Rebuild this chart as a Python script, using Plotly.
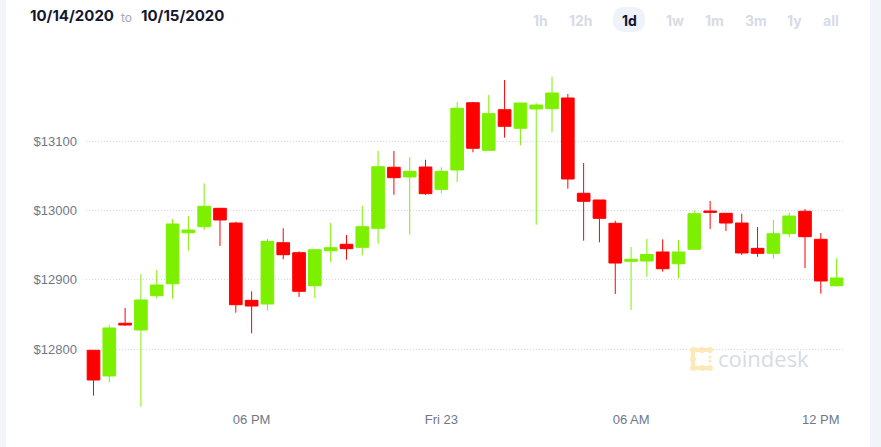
import plotly.graph_objects as go
import pandas as pd

# ---- data (30-minute candles) ----
opens = [12798.1, 12761.1, 12837.1, 12827.4, 12876.9, 12894.2, 12967.7, 12976.4,
         13002.9, 12981.7, 12870.2, 12864.9, 12953.3, 12938.9, 12891.3, 12941.8,
         12951.0, 12946.7, 12974.1, 13062.1, 13048.1, 13062.5, 13030.3, 13058.2,
         13155.2, 13086.6, 13145.1, 13118.3, 13146.2, 13146.6, 13162.0, 13024.6,
         13014.9, 12981.3, 12926.5, 12926.9, 12939.9, 12923.0, 12943.8, 12999.0,
         12995.7, 12981.7, 12945.2, 12938.0, 12966.3, 12998.6, 12958.2, 12891.3]
highs = [12798.1, 12834.6, 12859.1, 12907.7, 12913.9, 12987.5, 12991.8, 13039.0,
         13003.4, 12983.6, 12883.2, 12958.7, 12974.1, 12940.9, 12944.2, 12981.7,
         12964.4, 13006.7, 13086.0, 13085.6, 13076.9, 13073.0, 13062.1, 13156.2,
         13156.2, 13166.3, 13188.0, 13154.8, 13154.8, 13192.7, 13167.8, 13068.3,
         13014.9, 12985.0, 12947.1, 12958.7, 12958.2, 12957.2, 13000.0, 13013.5,
         12995.7, 12995.1, 12976.0, 12986.1, 12996.6, 13001.9, 12967.3, 12930.8]
lows = [12732.6, 12752.0, 12833.6, 12716.8, 12873.1, 12872.5, 12941.8, 12971.6,
        12948.6, 12852.4, 12822.6, 12855.2, 12929.4, 12875.0, 12873.1, 12925.5,
        12928.8, 12935.1, 12951.9, 13022.5, 12964.9, 13022.5, 13024.6, 13040.9,
        13083.7, 13086.6, 13104.8, 13093.8, 12979.3, 13112.5, 13031.2, 12956.2,
        12953.9, 12879.3, 12856.3, 12904.3, 12911.5, 12902.0, 12942.8, 12973.1,
        12970.2, 12935.6, 12933.1, 12930.2, 12961.5, 12916.8, 12879.8, 12889.9]
closes = [12755.3, 12830.3, 12834.6, 12870.7, 12892.3, 12980.3, 12971.6, 13005.8,
          12986.1, 12863.9, 12862.0, 12955.3, 12936.0, 12883.2, 12943.2, 12946.1,
          12944.7, 12976.4, 13062.9, 13047.1, 13056.3, 13024.0, 13056.3, 13147.2,
          13089.5, 13139.4, 13121.2, 13154.8, 13151.9, 13169.2, 13045.2, 13013.0,
          12988.5, 12924.0, 12929.4, 12936.3, 12915.8, 12939.9, 12995.1, 12997.2,
          12981.7, 12938.5, 12938.0, 12966.3, 12991.8, 12962.0, 12898.1, 12902.4]
start_time = "2020-10-22 13:00"
tick_vals = ["2020-10-22 18:00", "2020-10-23 00:00", "2020-10-23 06:00", "2020-10-23 12:00"]
tick_text = ["06 PM", "Fri 23", "06 AM", "12 PM"]
y_ticks = [12800, 12900, 13000, 13100]
y_tick_text = ["$12800", "$12900", "$13000", "$13100"]
range_buttons = ["1h", "12h", "1d", "1w", "1m", "3m", "1y", "all"]
active_button = "1d"
date_from = "10/14/2020"
date_to = "10/15/2020"

times = pd.date_range(start_time, periods=len(opens), freq="30min")
step = pd.Timedelta(minutes=30)

# ---- layout geometry (pixels) ----
W, H = 881, 447
L, R, T, B = 86, 845, 50, 410
PW, PH = R - L, B - T


def px(p):
    return (p - L) / PW


def py(p):
    return (B - p) / PH


GREEN = "#7df000"
RED = "#ff0000"

fig = go.Figure(go.Candlestick(
    x=times, open=opens, high=highs, low=lows, close=closes,
    increasing=dict(line=dict(color=GREEN, width=1), fillcolor=GREEN),
    decreasing=dict(line=dict(color=RED, width=1), fillcolor=RED),
    whiskerwidth=0, hoverinfo="skip", showlegend=False,
))

font_fam = "Liberation Sans, Arial, sans-serif"
TICK_COL = "#6e788a"
annotations = []
# header dates
annotations.append(dict(text=f"<b>{date_from}</b>", x=px(28), y=py(16), xanchor="left",
                        yanchor="middle", font=dict(family="Inter", size=15, color="#141830")))
annotations.append(dict(text="to", x=px(126), y=py(17), xanchor="center", yanchor="middle",
                        font=dict(family="Inter", size=12, color="#a3a9b8")))
annotations.append(dict(text=f"<b>{date_to}</b>", x=px(139), y=py(16), xanchor="left",
                        yanchor="middle", font=dict(family="Inter", size=15, color="#141830")))
btn_centers = [540, 580.5, 629, 674.5, 714.5, 756, 794, 831]
for lab, cx in zip(range_buttons, btn_centers):
    col = "#121632" if lab == active_button else "#d7dbe5"
    annotations.append(dict(text=f"<b>{lab}</b>", x=px(cx), y=py(20), xanchor="center",
                            yanchor="middle", font=dict(family="Inter", size=14, color=col)))
# watermark
annotations.append(dict(text="coindesk", x=px(716), y=py(358), xanchor="left", yanchor="middle",
                        font=dict(family="Open Sans", size=22, color="#d8dbe3")))
for a in annotations:
    a.update(xref="paper", yref="paper", showarrow=False)

shapes = []
# side strips
shapes.append(dict(type="rect", x0=px(-2), x1=px(6), y0=py(-5), y1=py(H + 5),
                   fillcolor="#f1f4f9", line_width=0, layer="below"))
shapes.append(dict(type="rect", x0=px(870), x1=px(W + 20), y0=py(-5), y1=py(H + 5),
                   fillcolor="#f1f4f9", line_width=0, layer="below"))
# active pill
x0p, x1p, y0p, y1p, r = 613, 645, 7, 32, 12
pill = (f"M {x0p + r},{y0p} L {x1p - r},{y0p} Q {x1p},{y0p} {x1p},{y0p + r} "
        f"L {x1p},{y1p - r} Q {x1p},{y1p} {x1p - r},{y1p} L {x0p + r},{y1p} "
        f"Q {x0p},{y1p} {x0p},{y1p - r} L {x0p},{y0p + r} Q {x0p},{y0p} {x0p + r},{y0p} Z")


def conv_path(p):
    out = []
    for t in p.split():
        if "," in t:
            a, b = t.split(",")
            out.append(f"{px(float(a))},{py(float(b))}")
        else:
            out.append(t)
    return " ".join(out)


shapes.append(dict(type="path", path=conv_path(pill),
                   fillcolor="#eef2f9", line_width=0, layer="below"))
# watermark icon (light yellow dots)
LOGO = "#fde9b8"
for (cx, cy, rr) in [(693, 350, 3), (702, 350, 3), (710, 350, 3), (693, 359, 3),
                     (693, 368, 3), (702, 368, 3), (710, 368, 3), (710, 357, 1.6), (710, 361, 1.6)]:
    shapes.append(dict(type="circle", x0=px(cx - rr), x1=px(cx + rr),
                       y0=py(cy + rr), y1=py(cy - rr), fillcolor=LOGO, line_width=0))
for (ax0, ay0, ax1, ay1) in [(693, 348, 710, 352), (691, 350, 695, 368), (693, 366, 710, 370)]:
    shapes.append(dict(type="rect", x0=px(ax0), x1=px(ax1),
                       y0=py(ay1), y1=py(ay0), fillcolor=LOGO, line_width=0))
for s in shapes:
    s.setdefault("xref", "paper")
    s.setdefault("yref", "paper")

y_lo = 13100 - (B - 141) * 300 / 208
y_hi = 13100 + (141 - T) * 300 / 208

fig.update_layout(
    width=W, height=H,
    margin=dict(l=L, r=W - R, t=T, b=H - B),
    paper_bgcolor="white", plot_bgcolor="white",
    boxgap=0.2, boxgroupgap=0,
    annotations=annotations, shapes=shapes,
    xaxis=dict(
        type="date",
        range=[times[0] - 0.474 * step, times[0] + 47.53 * step],
        rangeslider=dict(visible=False),
        tickvals=tick_vals, ticktext=tick_text,
        showgrid=False, zeroline=False, showline=False, ticks="",
        tickfont=dict(family=font_fam, size=13, color=TICK_COL),
        fixedrange=True,
    ),
    yaxis=dict(
        range=[y_lo, y_hi],
        tickvals=y_ticks, ticktext=y_tick_text,
        showgrid=True, gridcolor="#d3d9e8", griddash="1px,2px", gridwidth=1,
        zeroline=False, showline=False, ticks="",
        ticklabelstandoff=8,
        tickfont=dict(family=font_fam, size=13, color=TICK_COL),
        fixedrange=True,
    ),
    hovermode=False,
)

fig.write_html("out.html", config={"displayModeBar": False})
